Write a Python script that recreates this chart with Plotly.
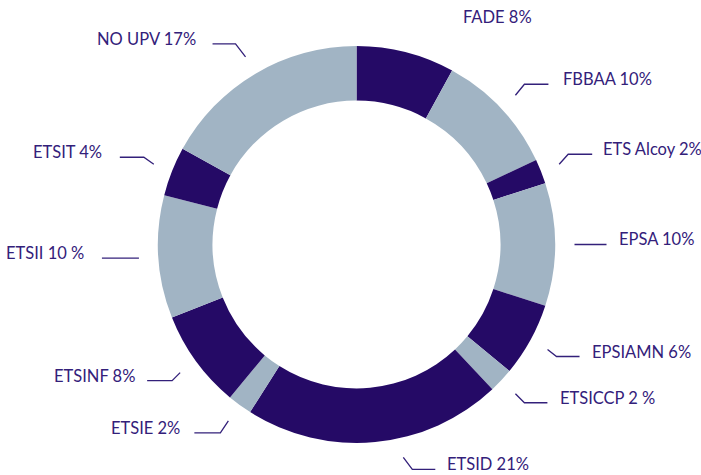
import math
import plotly.graph_objects as go

# ---- data ----
labels = ["FADE", "FBBAA", "ETS Alcoy", "EPSA", "EPSIAMN", "ETSICCP",
          "ETSID", "ETSIE", "ETSINF", "ETSII", "ETSIT", "NO UPV"]
values = [8, 10, 2, 10, 6, 2, 21, 2, 8, 10, 4, 17]
label_texts = ["FADE 8%", "FBBAA 10%", "ETS Alcoy 2%", "EPSA 10%", "EPSIAMN 6%",
               "ETSICCP 2 %", "ETSID 21%", "ETSIE 2%", "ETSINF 8%", "ETSII 10 %",
               "ETSIT 4%", "NO UPV 17%"]

# ---- styles / layout ----
W, H = 701, 475
DARK = "#250a66"
LIGHT = "#a1b4c4"
TEXT = "#33207a"
colors = [DARK if i % 2 == 0 else LIGHT for i in range(len(values))]

CX, CY, R = 356.5, 244.5, 198.5
HOLE = 0.725
R_LEADER = 218
# per-label leader geometry: (diag dx, diag dy, horizontal length, angle nudge deg)
leader = [
    None,
    (9, -11, 24, 0), (9, -10, 24, 0), (0, 0, 32, 0), (9, 7, 23, 0),
    (9, 9, 23, 0), (9, 12, 23, -7), (-8, 12, 26, 0), (-8, 8, 25, 0),
    (0, 0, 37, 0), (-10, -7, 24, 0), (-10, -13, 23, 0),
]
TEXT_GAP = [0, 13, 9, 10, 10, 11, 10, 12, 10, 16, 16, 15]


def px(x):
    return x / W


def py(y):
    return 1 - y / H


fig = go.Figure(go.Pie(
    labels=labels, values=values, sort=False, direction="clockwise",
    rotation=0, hole=HOLE, textinfo="none", hoverinfo="label+percent",
    marker=dict(colors=colors, line=dict(width=0)),
    domain=dict(x=[px(CX - R), px(CX + R)], y=[py(CY + R), py(CY - R)]),
    showlegend=False,
))

total = sum(values)
cum = 0
shapes, annotations = [], []
for i, v in enumerate(values):
    mid = (cum + v / 2) / total * 360
    cum += v
    nudge = leader[i][3] if leader[i] else 0
    a = math.radians(mid + nudge)
    ax = CX + R_LEADER * math.sin(a)
    ay = CY - R_LEADER * math.cos(a)
    right = math.sin(a) >= 0
    if leader[i] is None:
        tx, ty = ax + 50, ay - 16
        annotations.append(dict(x=px(tx), y=py(ty), xref="paper", yref="paper",
                                text=label_texts[i], showarrow=False,
                                xanchor="left", yanchor="middle"))
        continue
    dx, dy, hl, _ = leader[i]
    x1, y1 = ax + dx, ay + dy
    x2 = x1 + hl if right else x1 - hl
    path = f"M {px(ax)},{py(ay)} L {px(x1)},{py(y1)} L {px(x2)},{py(y1)}"
    shapes.append(dict(type="path", path=path, xref="paper", yref="paper",
                       line=dict(color=TEXT, width=1.3)))
    tx = x2 + TEXT_GAP[i] if right else x2 - TEXT_GAP[i]
    annotations.append(dict(x=px(tx), y=py(y1 - 5), xref="paper", yref="paper",
                            text=label_texts[i], showarrow=False,
                            xanchor="left" if right else "right", yanchor="middle"))

fig.update_layout(
    width=W, height=H, margin=dict(l=0, r=0, t=0, b=0),
    paper_bgcolor="white", plot_bgcolor="white",
    font=dict(family="Lato", size=16.5, color=TEXT),
    shapes=shapes, annotations=annotations,
)
fig.write_html("out.html", config={"displayModeBar": False},
               post_script="document.body.style.margin='0';document.body.style.overflow='hidden';")
